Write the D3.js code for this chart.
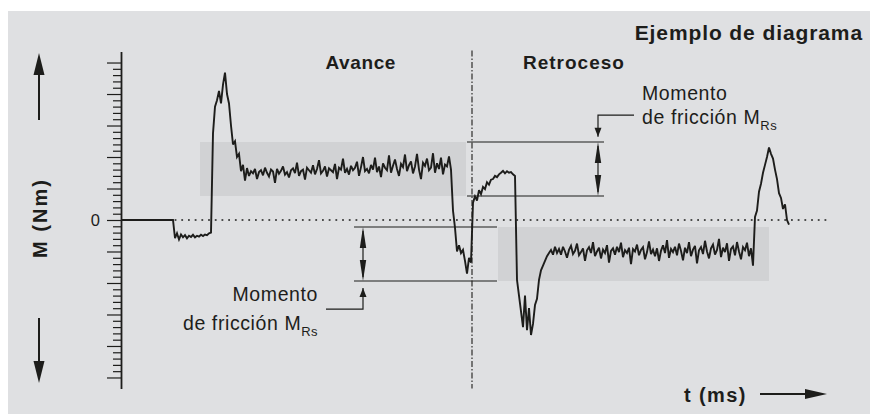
<!DOCTYPE html>
<html>
<head>
<meta charset="utf-8">
<script src="https://cdn.jsdelivr.net/npm/d3@7"></script>
<style>
  html, body { margin: 0; padding: 0; background: #ffffff; }
  svg { display: block; font-family: "Liberation Sans", Arial, Helvetica, sans-serif; }
</style>
</head>
<body>
<svg id="chart" width="870" height="414"></svg>
<script>
// ---- Measured torque trace, sampled every 1 ms (values in Nm) ----
const sampleStepMs = 1;

const idleSegment = [0,0,0,0,0,0,0,0,0,0,0,0,0,0,0,0,0,0,0,0,0,0,0,0,0,0,0];

const preloadSegment = [-0.58,-0.42,-0.62,-0.46,-0.55,-0.48,-0.58,-0.50,-0.54,-0.47,
  -0.55,-0.50,-0.53,-0.47,-0.51,-0.46,-0.48,-0.42,-0.40];

const forwardBreakaway = [2.75,3.60,3.80,4.10,3.70,4.30,4.68,4.00,3.70,3.00,
  2.40,2.50,2.00,2.10,1.55,1.75,1.25,1.65,1.40];

const forwardRunning = [
  1.55,1.48,1.62,1.30,1.52,1.58,1.42,1.66,1.50,1.38,
  1.60,1.54,1.18,1.62,1.47,1.56,1.70,1.44,1.52,1.35,
  1.58,1.64,1.49,1.82,1.40,1.55,1.60,1.28,1.66,1.58,
  1.50,1.74,1.45,1.62,1.90,1.48,1.56,1.70,1.38,1.64,
  1.58,1.52,1.78,1.30,1.66,1.60,1.95,1.50,1.62,1.44,
  1.72,1.58,1.66,1.85,1.40,1.68,2.00,1.55,1.62,1.48,
  1.75,1.60,1.98,1.52,1.70,1.36,1.80,1.66,1.58,2.05,
  1.50,1.72,1.92,1.62,1.40,1.78,1.68,2.08,1.55,1.74,
  1.86,1.48,1.70,2.10,1.60,1.30,1.82,1.72,1.95,1.58,
  1.66,2.12,1.50,1.80,1.62,1.98,1.45,1.76,1.70,2.02,
  1.60];

const reversalSegment = [0.30,-0.25,-1.00,-0.80,-1.05,-0.95,-1.30,-1.70,-1.20,-1.35,
  0.55,0.75,0.62,0.95,0.82,1.05,0.98,1.20,1.12,1.28,
  1.30,1.40,1.36,1.45,1.50,1.56,1.48,1.55,1.50,1.52,1.45,1.40];

const backwardBreakaway = [-1.90,-2.40,-2.90,-3.40,-2.40,-3.50,-2.80,-3.65,-3.30,-2.70,
  -2.50,-1.90,-1.60,-1.45,-1.30,-1.15,-1.05,-0.95,-1.10,-0.85];

const backwardRunning = [
  -1.05,-0.92,-1.10,-0.85,-1.00,-1.20,-0.95,-0.82,-1.08,-0.98,
  -0.75,-1.12,-1.02,-0.90,-1.30,-0.96,-0.86,-1.05,-0.70,-1.15,
  -1.00,-0.88,-1.22,-0.94,-1.05,-0.80,-1.35,-0.98,-0.90,-1.10,
  -0.85,-1.02,-0.72,-1.18,-0.96,-1.05,-0.88,-1.40,-0.92,-1.00,
  -0.78,-1.12,-0.95,-0.86,-1.25,-1.02,-0.68,-1.08,-0.94,-1.15,
  -0.90,-1.30,-0.98,-0.80,-1.05,-0.64,-1.20,-0.92,-1.02,-0.85,
  -1.12,-0.75,-0.98,-1.28,-0.88,-1.05,-0.70,-1.15,-0.94,-0.82,
  -1.38,-0.96,-0.86,-1.08,-0.66,-1.00,-1.22,-0.90,-0.78,-1.10,
  -0.95,-0.60,-1.18,-0.88,-1.02,-0.74,-1.30,-0.92,-0.84,-1.12,
  -0.70,-1.00,-1.25,-0.86,-0.96,-0.72,-1.15,-0.90,-1.45];

const returnSegment = [0.10,0.30,0.90,1.15,1.50,1.75,2.00,2.30,2.10,1.95,
  1.60,1.30,0.85,0.70,0.35,0.50,0.00,-0.15];

// ---- Friction bands and annotation levels ----
const forwardBand  = [39.5, 172.5, 0.762, 2.476];   // [t start, t end, low, high]
const backwardBand = [188.5, 324, -1.937, -0.222];
const phaseSplitMs = 175.5;
const timeAxisEndMs = 353;
const torqueAxisLimit = 5.35;
const tickStep = 0.2;

const phaseLabels = ["Avance", "Retroceso"];
const titleText = "Ejemplo de diagrama";
const yAxisTitle = "M (Nm)";
const xAxisTitle = "t (ms)";
const frictionLabel = ["Momento", "de fricción M", "Rs"];

const torque = [].concat(idleSegment, preloadSegment, forwardBreakaway, forwardRunning,
  reversalSegment, backwardBreakaway, backwardRunning, returnSegment);

// ---- Drawing ----
const ink = "#1d1d1b";
const svg = d3.select("#chart");

svg.append("rect").attr("x", 8).attr("y", 11).attr("width", 862).attr("height", 403)
  .attr("fill", "#dfe0e2");

const x = d3.scaleLinear().domain([0, timeAxisEndMs]).range([121, 827]);
const y = d3.scaleLinear().domain([-torqueAxisLimit, torqueAxisLimit]).range([388.5, 51.5]);

// friction bands
[forwardBand, backwardBand].forEach(b => {
  svg.append("rect")
    .attr("x", x(b[0])).attr("width", x(b[1]) - x(b[0]))
    .attr("y", y(b[3])).attr("height", y(b[2]) - y(b[3]))
    .attr("fill", "#d1d2d4");
});

// zero reference line (dotted)
svg.append("line")
  .attr("x1", x(0)).attr("x2", x(timeAxisEndMs))
  .attr("y1", y(0)).attr("y2", y(0))
  .attr("stroke", ink).attr("stroke-width", 1.6)
  .attr("stroke-dasharray", "1.8,4.9");

// phase split (dash-dot)
svg.append("line")
  .attr("x1", x(phaseSplitMs)).attr("x2", x(phaseSplitMs))
  .attr("y1", y(torqueAxisLimit) - 1).attr("y2", y(-torqueAxisLimit))
  .attr("stroke", ink).attr("stroke-width", 1.1)
  .attr("stroke-dasharray", "6,2,1.5,2");

// vertical torque axis with fine ticks
const ticks = d3.range(-5, 5 + 1e-9, tickStep).map(v => +v.toFixed(2));
const axis = d3.axisLeft(y).tickValues(ticks).tickFormat("")
  .tickSizeOuter(0).tickSizeInner(8);
const axisG = svg.append("g").attr("transform", `translate(${x(0)},0)`).call(axis);
axisG.select(".domain").attr("stroke", ink).attr("stroke-width", 1.8);
axisG.selectAll(".tick line")
  .attr("stroke", ink).attr("stroke-width", 1.2)
  .attr("x2", d => Math.abs(d - Math.round(d)) < 1e-6 ? -14 : -8);

svg.append("text").attr("x", 100).attr("y", y(0)).attr("dy", "0.36em")
  .attr("text-anchor", "end").attr("font-size", 16.5).attr("fill", ink).text("0");

// torque trace
const line = d3.line()
  .x((d, i) => x(i * sampleStepMs))
  .y(d => y(d));
svg.append("path").datum(torque)
  .attr("d", line)
  .attr("fill", "none").attr("stroke", ink)
  .attr("stroke-width", 1.9).attr("stroke-linejoin", "miter").attr("stroke-miterlimit", 3);

// arrowhead helper
function head(px, py, dir, len, half) {
  let pts;
  if (dir === "up") pts = [[px, py], [px - half, py + len], [px + half, py + len]];
  else if (dir === "down") pts = [[px, py], [px - half, py - len], [px + half, py - len]];
  else pts = [[px, py], [px - len, py - half], [px - len, py + half]];
  svg.append("path").attr("d", "M" + pts.join("L") + "Z").attr("fill", ink);
}

// friction moment marker: two level lines, a double arrow and a leader to the label
function frictionMarker(t0, t1, lo, hi, tArrow, tLabelEnd, connectorLevel, tipLevel) {
  [lo, hi].forEach(v => {
    svg.append("line").attr("x1", x(t0)).attr("x2", x(t1))
      .attr("y1", y(v)).attr("y2", y(v))
      .attr("stroke", ink).attr("stroke-width", 1.2);
  });
  const ax = x(tArrow);
  svg.append("line").attr("x1", ax).attr("x2", ax)
    .attr("y1", y(hi) + 4).attr("y2", y(lo) - 4)
    .attr("stroke", ink).attr("stroke-width", 1.2);
  head(ax, y(hi), "up", 21, 3.2);
  head(ax, y(lo), "down", 21, 3.2);
  svg.append("path")
    .attr("d", `M${x(tLabelEnd)},${y(connectorLevel)}H${ax}V${y(tipLevel)}`)
    .attr("fill", "none").attr("stroke", ink).attr("stroke-width", 1.2);
  head(ax, y(tipLevel), tipLevel > connectorLevel ? "up" : "down", 9, 3.5);
}

frictionMarker(173, 241.5, forwardBand[2], forwardBand[3], 238.5, 256.5, 3.33, 2.64);
frictionMarker(116.5, 188, backwardBand[2], backwardBand[3], 121, 102.5, -2.83, -2.16);

// friction labels
function frictionText(xPos, y1, y2, anchor) {
  svg.append("text").attr("x", xPos).attr("y", y1)
    .attr("text-anchor", anchor).attr("font-size", 19.5).attr("letter-spacing", 0.6)
    .attr("fill", ink).text(frictionLabel[0]);
  const t = svg.append("text").attr("x", xPos).attr("y", y2)
    .attr("text-anchor", anchor).attr("font-size", 19.5).attr("letter-spacing", 0.6)
    .attr("fill", ink);
  t.append("tspan").text(frictionLabel[1]);
  t.append("tspan").attr("font-size", 13).attr("dy", 6).attr("letter-spacing", 0.4).text(frictionLabel[2]);
}
frictionText(642, 100, 124, "start");
frictionText(318, 301, 330, "end");

// phase labels
svg.append("text").attr("x", 325.5).attr("y", 68.5)
  .attr("font-size", 19).attr("font-weight", "bold").attr("letter-spacing", 0.6)
  .attr("fill", ink).text(phaseLabels[0]);
svg.append("text").attr("x", 523).attr("y", 68.5)
  .attr("font-size", 19).attr("font-weight", "bold").attr("letter-spacing", 1.0)
  .attr("fill", ink).text(phaseLabels[1]);

// title
svg.append("text").attr("x", 863).attr("y", 39.5)
  .attr("text-anchor", "end")
  .attr("font-size", 21).attr("font-weight", "bold").attr("letter-spacing", 0.9)
  .attr("fill", ink).text(titleText);

// axis titles and direction arrows
svg.append("text")
  .attr("transform", "translate(47,218) rotate(-90)")
  .attr("text-anchor", "middle")
  .attr("font-size", 20).attr("font-weight", "bold").attr("letter-spacing", 2)
  .attr("fill", ink).text(yAxisTitle);

svg.append("line").attr("x1", 39).attr("x2", 39).attr("y1", 120).attr("y2", 70)
  .attr("stroke", ink).attr("stroke-width", 2);
head(39, 53, "up", 22, 5.5);
svg.append("line").attr("x1", 39).attr("x2", 39).attr("y1", 318).attr("y2", 366)
  .attr("stroke", ink).attr("stroke-width", 2);
head(39, 383, "down", 22, 5.5);

svg.append("text").attr("x", 684).attr("y", 402)
  .attr("font-size", 20).attr("font-weight", "bold").attr("letter-spacing", 1.4)
  .attr("fill", ink).text(xAxisTitle);
svg.append("line").attr("x1", 760).attr("x2", 808).attr("y1", 394).attr("y2", 394)
  .attr("stroke", ink).attr("stroke-width", 2);
head(827, 394, "right", 22, 5);
</script>
</body>
</html>
